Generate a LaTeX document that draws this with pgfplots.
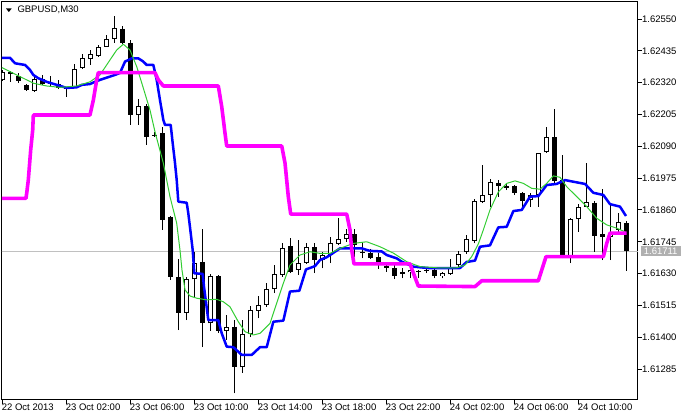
\documentclass[border=0pt]{standalone}
\usepackage{pgfplots}
\pgfplotsset{compat=1.18}
\usepackage{pgfplotstable}
\usepackage{fontspec}
\setmainfont{Liberation Sans}
\definecolor{mtblue}{RGB}{0,0,255}
\definecolor{mtmag}{RGB}{255,0,255}
\definecolor{mtgreen}{RGB}{50,205,50}
\definecolor{bidline}{RGB}{192,192,192}
\definecolor{bidbox}{RGB}{176,176,176}

\pgfplotstableread{
x o h l c
0 1.62330 1.62366 1.62326 1.62359
1 1.62359 1.62363 1.62323 1.62351
2 1.62344 1.62354 1.62318 1.62326
3 1.62312 1.62315 1.62290 1.62293
4 1.62290 1.62348 1.62286 1.62333
5 1.62333 1.62348 1.62312 1.62314
6 1.62319 1.62344 1.62308 1.62316
7 1.62314 1.62330 1.62297 1.62300
8 1.62303 1.62306 1.62269 1.62297
9 1.62302 1.62387 1.62301 1.62369
10 1.62372 1.62423 1.62369 1.62408
11 1.62404 1.62438 1.62384 1.62424
12 1.62416 1.62456 1.62413 1.62448
13 1.62450 1.62492 1.62449 1.62477
14 1.62477 1.62562 1.62464 1.62516
15 1.62514 1.62525 1.62460 1.62462
16 1.62462 1.62474 1.62167 1.62203
17 1.62203 1.62260 1.62167 1.62236
18 1.62236 1.62243 1.62095 1.62125
19 1.62131 1.62142 1.62124 1.62128
20 1.62137 1.62161 1.61788 1.61824
21 1.61833 1.61838 1.61607 1.61617
22 1.61618 1.61683 1.61426 1.61488
23 1.61488 1.61619 1.61462 1.61609
24 1.61609 1.61709 1.61546 1.61669
25 1.61672 1.61790 1.61364 1.61450
26 1.61450 1.61629 1.61424 1.61621
27 1.61621 1.61625 1.61415 1.61424
28 1.61423 1.61480 1.61390 1.61437
29 1.61438 1.61462 1.61197 1.61291
30 1.61291 1.61462 1.61272 1.61412
31 1.61412 1.61513 1.61400 1.61498
32 1.61496 1.61549 1.61468 1.61516
33 1.61516 1.61595 1.61510 1.61573
34 1.61573 1.61661 1.61559 1.61629
35 1.61625 1.61741 1.61618 1.61721
36 1.61730 1.61758 1.61632 1.61637
37 1.61643 1.61751 1.61625 1.61669
38 1.61669 1.61741 1.61665 1.61725
39 1.61725 1.61739 1.61632 1.61679
40 1.61679 1.61709 1.61649 1.61697
41 1.61697 1.61763 1.61668 1.61739
42 1.61737 1.61830 1.61733 1.61754
43 1.61754 1.61790 1.61745 1.61773
44 1.61773 1.61790 1.61691 1.61733
45 1.61709 1.61739 1.61685 1.61706
46 1.61706 1.61719 1.61683 1.61686
47 1.61690 1.61703 1.61647 1.61670
48 1.61659 1.61671 1.61637 1.61649
49 1.61651 1.61664 1.61610 1.61622
50 1.61630 1.61651 1.61613 1.61637
51 1.61635 1.61651 1.61615 1.61643
52 1.61635 1.61643 1.61614 1.61639
53 1.61643 1.61650 1.61632 1.61640
54 1.61643 1.61651 1.61613 1.61622
55 1.61622 1.61637 1.61613 1.61631
56 1.61627 1.61683 1.61625 1.61655
57 1.61661 1.61712 1.61655 1.61700
58 1.61708 1.61769 1.61701 1.61754
59 1.61749 1.61900 1.61739 1.61892
60 1.61890 1.62022 1.61885 1.61914
61 1.61914 1.61971 1.61872 1.61962
62 1.61957 1.61968 1.61908 1.61948
63 1.61945 1.61957 1.61932 1.61941
64 1.61947 1.61950 1.61914 1.61920
65 1.61920 1.61926 1.61860 1.61893
66 1.61896 1.61920 1.61870 1.61914
67 1.61914 1.62066 1.61872 1.62065
68 1.62068 1.62159 1.62066 1.62123
69 1.62123 1.62224 1.61957 1.61965
70 1.61968 1.62059 1.61686 1.61694
71 1.61691 1.61831 1.61668 1.61827
72 1.61826 1.61881 1.61781 1.61872
73 1.61872 1.62031 1.61871 1.61890
74 1.61886 1.61892 1.61709 1.61766
75 1.61773 1.61935 1.61679 1.61761
76 1.61762 1.61878 1.61679 1.61777
77 1.61788 1.61850 1.61780 1.61818
78 1.61812 1.61821 1.61640 1.61711
}\candles

\pgfplotstableread{
x y
-0.34 1.62410
0.91 1.62410
1.54 1.62390
2.79 1.62384
3.41 1.62366
3.83 1.62348
4.45 1.62336
5.5 1.62323
6.75 1.62312
8.0 1.62301
9.25 1.62303
9.88 1.62312
10.91 1.62315
11.54 1.62323
12.16 1.62330
14.04 1.62348
14.66 1.62355
15.29 1.62396
16.13 1.62408
16.95 1.62408
17.58 1.62396
18.0 1.62384
18.83 1.62384
19.25 1.62330
19.66 1.62257
20.08 1.62185
20.29 1.62167
21.0 1.62167
21.25 1.62101
21.54 1.62029
21.75 1.61968
21.95 1.61890
23.0 1.61886
23.2 1.61848
23.5 1.61776
23.75 1.61715
23.95 1.61631
25.0 1.61629
25.16 1.61583
25.7 1.61462
26.95 1.61462
27.38 1.61414
28.0 1.61366
28.83 1.61364
29.88 1.61336
31.13 1.61336
32.16 1.61364
33.0 1.61364
33.83 1.61456
35.08 1.61460
35.91 1.61565
37.08 1.61568
37.91 1.61645
39.04 1.61657
39.66 1.61679
40.5 1.61689
41.33 1.61705
42.16 1.61721
44.88 1.61721
45.91 1.61712
47.38 1.61710
48.0 1.61697
49.25 1.61685
49.88 1.61673
51.33 1.61655
53.2 1.61650
57.16 1.61650
58.0 1.61672
59.04 1.61677
59.66 1.61727
60.91 1.61732
61.95 1.61797
63.0 1.61799
63.83 1.61856
64.88 1.61860
65.91 1.61908
66.95 1.61910
68.0 1.61950
69.25 1.61954
70.29 1.61968
71.33 1.61962
72.79 1.61954
73.83 1.61922
75.08 1.61914
75.91 1.61881
77.16 1.61872
77.91 1.61838
}\blueline

\pgfplotstableread{
x y
-0.34 1.62378
0.91 1.62360
2.16 1.62342
3.83 1.62318
5.5 1.62308
7.16 1.62303
9.25 1.62308
10.91 1.62323
12.16 1.62348
13.41 1.62402
14.25 1.62438
15.08 1.62459
15.91 1.62438
16.75 1.62378
17.58 1.62300
18.41 1.62221
19.04 1.62142
20.08 1.62029
20.91 1.61908
21.75 1.61812
22.16 1.61715
22.41 1.61643
22.79 1.61571
23.41 1.61549
24.25 1.61541
25.5 1.61535
26.75 1.61537
27.58 1.61528
28.41 1.61510
29.45 1.61456
30.29 1.61420
31.33 1.61408
32.16 1.61414
33.41 1.61450
34.25 1.61523
35.08 1.61595
35.91 1.61661
37.16 1.61697
38.41 1.61709
39.66 1.61703
40.91 1.61703
42.16 1.61721
43.83 1.61739
45.5 1.61745
47.16 1.61727
48.83 1.61704
50.5 1.61673
52.16 1.61655
54.25 1.61651
56.75 1.61651
57.79 1.61661
58.62 1.61691
59.45 1.61737
60.08 1.61788
60.91 1.61860
61.95 1.61925
63.0 1.61956
64.04 1.61965
65.08 1.61956
66.13 1.61938
67.16 1.61935
68.0 1.61956
68.83 1.61983
69.66 1.61978
70.5 1.61944
71.75 1.61908
73.0 1.61872
74.25 1.61830
75.5 1.61806
76.75 1.61794
77.79 1.61781
}\greenline

\pgfplotstableread{
x y
-0.34 1.61902
2.91 1.61902
3.0 1.61920
3.2 1.61968
3.5 1.62077
3.75 1.62149
3.83 1.62203
10.91 1.62203
11.33 1.62257
11.75 1.62330
11.95 1.62356
19.04 1.62356
19.45 1.62330
20.08 1.62308
26.95 1.62308
27.38 1.62233
27.79 1.62137
28.0 1.62091
34.88 1.62091
35.29 1.62029
35.7 1.61908
36.0 1.61845
43.0 1.61845
43.41 1.61788
43.63 1.61715
43.91 1.61665
50.91 1.61665
51.54 1.61616
51.95 1.61585
59.04 1.61583
59.88 1.61604
66.95 1.61604
67.38 1.61643
67.91 1.61691
75.08 1.61691
75.5 1.61739
75.91 1.61776
78.0 1.61776
}\magline

\begin{document}
\begin{tikzpicture}
\path[use as bounding box] (0pt,0pt) rectangle (681pt,420pt);
\begin{axis}[
  at={(2pt,20pt)}, anchor=south west,
  scale only axis, width=636pt, height=398pt,
  xmin=-0.0875, xmax=79.41, ymin=1.611731, ymax=1.626115,
  axis line style={black, line width=1pt},
  tick style={black, line width=1pt},
  tick align=outside, major tick length=4pt,
  xtick pos=left, ytick pos=right, yticklabel pos=right,
  xtick={0,8,16,24,32,40,48,56,64,72},
  xticklabels={22 Oct 2013,23 Oct 02:00,23 Oct 06:00,23 Oct 10:00,23 Oct 14:00,23 Oct 18:00,23 Oct 22:00,24 Oct 02:00,24 Oct 06:00,24 Oct 10:00},
  ytick={1.61285,1.61400,1.61515,1.61630,1.61745,1.61860,1.61975,1.62090,1.62205,1.62320,1.62435,1.62550},
  yticklabels={1.61285,1.61400,1.61515,1.61630,1.61745,1.61860,1.61975,1.62090,1.62205,1.62320,1.62435,1.62550},
  xticklabel style={font=\fontsize{9.5}{10}\selectfont, anchor=north west, inner sep=0pt, xshift=-1pt},
  yticklabel style={font=\fontsize{9.5}{10}\selectfont, anchor=west, inner sep=0pt},
  scaled y ticks=false,
]
\addplot[bidline, line width=1pt] coordinates {(-1,1.61711) (80,1.61711)};
% wicks
\addplot[draw=none, mark=none, error bars/.cd, y dir=plus, y explicit, error mark=none,
  error bar style={draw=black, line width=1pt}]
  table[x=x, y=l, y error plus expr={\thisrow{h}-\thisrow{l}}] {\candles};
% bodies (outline / black fill)
\addplot[draw=none, mark=none, error bars/.cd, y dir=both, y explicit, error mark=none,
  error bar style={draw=black, line width=5pt}]
  table[x=x, y=o, y error plus expr={max(\thisrow{c}-\thisrow{o},0)}, y error minus expr={max(\thisrow{o}-\thisrow{c},0)}] {\candles};
% white interior of bullish bodies
\addplot[draw=none, mark=none, unbounded coords=discard, error bars/.cd, y dir=both, y explicit, error mark=none,
  error bar style={draw=white, line width=3pt}]
  table[x=x, y expr={(\thisrow{c}-\thisrow{o}>0.00008) ? 0.5*(\thisrow{o}+\thisrow{c}) : nan}, y error expr={0.5*(\thisrow{c}-\thisrow{o})-0.000036}] {\candles};
\addplot[mtblue, line width=2.5pt, line join=round] table[x=x, y=y] {\blueline};
\addplot[mtgreen, line width=1pt, line join=round] table[x=x, y=y] {\greenline};
\addplot[mtmag, line width=3.6pt, line join=round] table[x=x, y=y] {\magline};
\coordinate (bid) at (axis cs:79.41,1.61711);
\end{axis}
\node[fill=bidbox, text=white, inner sep=0pt, minimum height=10.5pt, minimum width=40pt, anchor=west,
  font=\fontsize{9.5}{10}\selectfont] at ([xshift=2.5pt]bid) {1.61711};
\fill[black] (6pt,411.5pt) -- (11.7pt,411.5pt) -- (8.85pt,408pt) -- cycle;
\node[anchor=base west, inner sep=0pt, font=\fontsize{9.5}{10}\selectfont] at (17.3pt,407.5pt) {GBPUSD,M30};
\end{tikzpicture}
\end{document}
